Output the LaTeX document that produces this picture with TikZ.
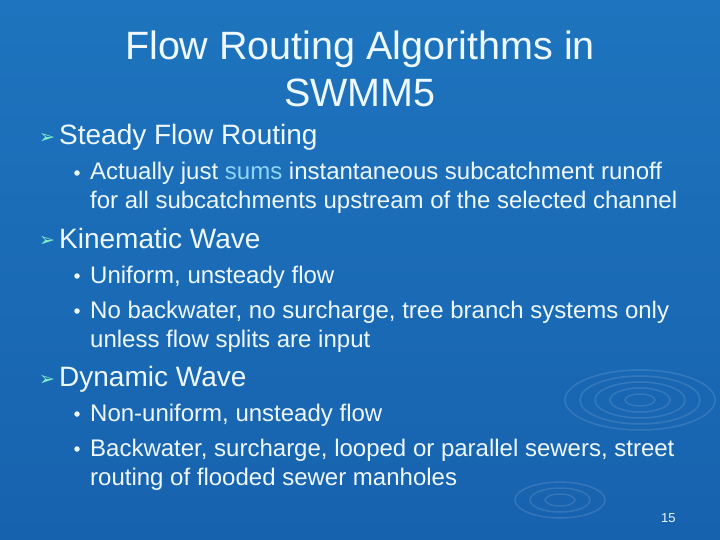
\documentclass[tikz,border=0pt]{standalone}
\usepackage{fontspec}
\setmainfont{Liberation Sans}
\newfontfamily\dejavu{DejaVu Sans}
\begin{document}
\begin{tikzpicture}[x=1pt,y=-1pt,
  txt/.style={text=fgc,anchor=base west,inner sep=0pt},
  lone/.style={txt,font=\fontsize{28}{32}\selectfont},
  ltwo/.style={txt,font=\fontsize{24}{28}\selectfont},
  arr/.style={text=arrc,anchor=base west,inner sep=0pt,font=\dejavu\fontsize{19}{22}\selectfont},
  dotb/.style={circle,fill=fgc,inner sep=0pt,minimum size=5.5pt}]
\definecolor{fgc}{HTML}{EEF8FF}
\definecolor{arrc}{HTML}{7FF0C8}
\definecolor{hl}{HTML}{8FD6FF}
\definecolor{bgtop}{HTML}{1E74BE}
\definecolor{bgbot}{HTML}{1762AE}
\shade[top color=bgtop,bottom color=bgbot] (0,0) rectangle (720,540);
\useasboundingbox (0,0) rectangle (720,540);
\foreach \r in {15,30,45,60,75}{\draw[white,opacity=0.12,line width=1.5pt] (640,400) ellipse ({\r} and {\r*0.4});}
\foreach \r in {15,30,45}{\draw[white,opacity=0.12,line width=1.5pt] (560,500) ellipse ({\r} and {\r*0.4});}
\node[txt,anchor=base,font=\fontsize{39.5}{44}\selectfont] (t1) at (360,60) {Flow Routing Algorithms in};
\node[txt,anchor=base,font=\fontsize{39.5}{44}\selectfont] (t2) at (360,107) {SWMM5};
\node[arr] (a1) at (39,144) {➢};
\node[lone] (l1) at (59,145) {Steady Flow Routing};
\node[dotb] (d1) at (77,173) {};
\node[ltwo] (s1) at (90,180) {Actually just \textcolor{hl}{sums} instantaneous subcatchment runoff};
\node[ltwo] (s2) at (90,209) {for all subcatchments upstream of the selected channel};
\node[arr] (a2) at (39,247) {➢};
\node[lone] (l2) at (59,248) {Kinematic Wave};
\node[dotb] (d2) at (77,276) {};
\node[ltwo] (s3) at (90,283) {Uniform, unsteady flow};
\node[dotb] (d3) at (77,311) {};
\node[ltwo] (s4) at (90,318) {No backwater, no surcharge, tree branch systems only};
\node[ltwo] (s5) at (90,347) {unless flow splits are input};
\node[arr] (a3) at (39,385) {➢};
\node[lone] (l3) at (59,386) {Dynamic Wave};
\node[dotb] (d4) at (77,414) {};
\node[ltwo] (s6) at (90,421) {Non-uniform, unsteady flow};
\node[dotb] (d5) at (77,449) {};
\node[ltwo] (s7) at (90,456) {Backwater, surcharge, looped or parallel sewers, street};
\node[ltwo] (s8) at (90,485) {routing of flooded sewer manholes};
\node[txt,font=\fontsize{13}{15}\selectfont] (pg) at (661,522) {15};
\end{tikzpicture}
\end{document}
